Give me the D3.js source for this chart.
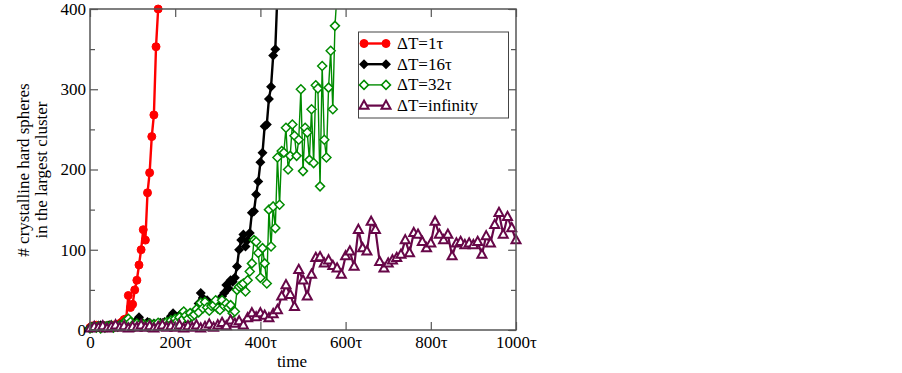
<!DOCTYPE html>
<html>
<head>
<meta charset="utf-8">
<script src="https://cdn.jsdelivr.net/npm/d3@7"></script>
<style>
  body { margin: 0; background: #fff; }
  svg text { font-family: "Liberation Serif", "Times New Roman", serif; }
</style>
</head>
<body>
<svg id="chart"></svg>
<script>
const width = 902;
const height = 373;

// time samples and values of each run
const tRed = d3.range(0, 161, 5);
const vRed = [3, 5, 4, 6, 5, 4, 3, 5, 4, 6, 5, 6, 5, 7, 8, 10, 13, 14, 43, 28, 32, 50, 62, 81, 100, 125, 112, 171, 196, 241, 268, 353, 400];

const tBlack = d3.range(0, 446, 5);
const vBlack = [3, 4, 5, 3, 4, 6, 4, 5, 3, 6, 5, 4, 6, 5, 7, 6, 5, 8, 6, 7,
  9, 8, 12, 16, 10, 8, 7, 10, 9, 6, 8, 7, 6, 9, 8, 10, 8, 12, 17, 21,
  15, 12, 18, 21, 16, 14, 19, 15, 21, 18, 25, 33, 46, 40, 35, 37, 28, 32, 29, 35,
  31, 37, 42, 46, 56, 52, 62, 60, 65, 79, 100, 112, 119, 104, 112, 121, 146, 148, 169, 185,
  209, 221, 254, 256, 288, 303, 342, 350, 420];

const tGreen = d3.range(0, 581, 5);
const vGreen = [2, 3, 4, 3, 5, 2, 4, 3, 5, 4, 6, 3, 5, 4, 6, 5,
  8, 12, 14, 10, 6, 4, 8, 6, 5, 7, 6, 4, 8, 5, 7, 6, 9, 5, 8, 6,
  10, 8, 12, 9, 14, 11, 16, 12, 23, 18, 14, 21, 17, 19, 26, 22, 34, 27, 35, 28,
  24, 30, 31, 37, 27, 25, 37, 30, 33, 28, 31, 21, 23, 50, 54, 56, 58, 48, 62, 73,
  83, 112, 110, 96, 65, 102, 83, 58, 150, 104, 154, 127, 215, 156, 223, 221, 252, 200, 217, 256,
  242, 217, 237, 300, 198, 252, 246, 212, 275, 208, 305, 301, 179, 329, 237, 215, 302, 348, 275, 379,
  420];

const tInf = d3.range(0, 1001, 10);
const vInf = [2, 4, 3, 5, 2, 4, 6, 3, 5, 2, 4, 3, 6, 3, 5, 2, 4, 6, 3, 5,
  3, 6, 2, 5, 3, 6, 2, 4, 7, 3, 6, 9, 5, 12, 8, 11, 6, 15, 21, 16,
  21, 18, 15, 20, 25, 42, 56, 44, 29, 75, 62, 42, 69, 90, 91, 83, 87, 80, 77, 69,
  92, 98, 79, 125, 102, 98, 135, 125, 85, 77, 83, 87, 90, 94, 112, 96, 121, 119, 110, 102,
  108, 135, 119, 112, 119, 92, 108, 110, 106, 108, 106, 110, 94, 117, 108, 131, 146, 119, 141, 127,
  112];

const labels = ["\u0394T=1\u03c4", "\u0394T=16\u03c4", "\u0394T=32\u03c4", "\u0394T=infinity"];
const xTicks = [0, 200, 400, 600, 800, 1000];
const yTicks = [0, 100, 200, 300, 400];
const yMinor = [50, 150, 250, 350];

const series = [
  { t: tRed, v: vRed, name: labels[0], color: "#ff0000", width: 2.4, shape: "circle" },
  { t: tBlack, v: vBlack, name: labels[1], color: "#000000", width: 2.4, shape: "diamondFill" },
  { t: tGreen, v: vGreen, name: labels[2], color: "#008b00", width: 1.4, shape: "diamond" },
  { t: tInf, v: vInf, name: labels[3], color: "#670748", width: 2.2, shape: "triangle" }
];

const svg = d3.select("#chart").attr("width", width).attr("height", height);

const x = d3.scaleLinear().domain([0, 1000]).range([90, 516]);
const y = d3.scaleLinear().domain([0, 400]).range([330, 9]);

svg.append("defs").append("clipPath").attr("id", "plotclip")
   .append("rect")
   .attr("x", x(0)).attr("y", y(400))
   .attr("width", x(1000) - x(0)).attr("height", y(0) - y(400));

function marker(g, shape, color) {
  if (shape === "circle") {
    g.append("circle").attr("r", 4).attr("fill", color).attr("stroke", color).attr("stroke-width", 1);
  } else if (shape === "diamondFill") {
    g.append("path").attr("d", "M0,-5L5,0L0,5L-5,0Z").attr("fill", color);
  } else if (shape === "diamond") {
    g.append("path").attr("d", "M0,-4.5L4.5,0L0,4.5L-4.5,0Z").attr("fill", "#fff")
     .attr("stroke", color).attr("stroke-width", 1.5);
  } else {
    g.append("path").attr("d", "M0,-5L4.5,3.2L-4.5,3.2Z").attr("fill", "#fff")
     .attr("stroke", color).attr("stroke-width", 2);
  }
}

series.forEach(s => {
  const pts = s.t.map((t, i) => [t, s.v[i]]);
  const line = d3.line().x(d => x(d[0])).y(d => y(d[1]));
  svg.append("path")
     .datum(pts)
     .attr("clip-path", "url(#plotclip)")
     .attr("fill", "none")
     .attr("stroke", s.color)
     .attr("stroke-width", s.width)
     .attr("stroke-linejoin", "round")
     .attr("d", line);
  svg.append("g").selectAll("g")
     .data(pts.filter(d => d[1] <= 400))
     .enter()
     .append("g")
     .attr("transform", d => `translate(${x(d[0])},${y(d[1])})`)
     .each(function () { marker(d3.select(this), s.shape, s.color); });
});

// frame and ticks
const axisColor = "#555";
const styleAxis = g => {
  g.select(".domain").remove();
  g.selectAll(".tick line").attr("stroke", axisColor).attr("stroke-width", 1.2);
  g.selectAll("text").attr("font-size", 17).attr("fill", "#000")
   .attr("font-family", "Liberation Serif, serif");
};

svg.append("g").attr("transform", `translate(0,${y(0)})`)
   .call(d3.axisBottom(x).tickValues(xTicks).tickSize(-8).tickPadding(6)
         .tickFormat(d => d === 0 ? "0" : d + "\u03c4"))
   .call(styleAxis);
svg.append("g").attr("transform", `translate(0,${y(400)})`)
   .call(d3.axisTop(x).tickValues(xTicks).tickSize(-8).tickFormat(""))
   .call(styleAxis);
svg.append("g").attr("transform", `translate(${x(0)},0)`)
   .call(d3.axisLeft(y).tickValues(yTicks).tickSize(-8).tickPadding(4))
   .call(styleAxis);
svg.append("g").attr("transform", `translate(${x(0)},0)`)
   .call(d3.axisLeft(y).tickValues(yMinor).tickSize(-5).tickFormat(""))
   .call(styleAxis);
svg.append("g").attr("transform", `translate(${x(1000)},0)`)
   .call(d3.axisRight(y).tickValues(yTicks).tickSize(-8).tickFormat(""))
   .call(styleAxis);
svg.append("g").attr("transform", `translate(${x(1000)},0)`)
   .call(d3.axisRight(y).tickValues(yMinor).tickSize(-5).tickFormat(""))
   .call(styleAxis);

svg.append("rect")
   .attr("x", x(0)).attr("y", y(400))
   .attr("width", x(1000) - x(0)).attr("height", y(0) - y(400))
   .attr("fill", "none").attr("stroke", axisColor).attr("stroke-width", 1.5);

// axis titles
svg.append("text").attr("x", 292).attr("y", 367).attr("text-anchor", "middle")
   .attr("font-size", 17).text("time");
svg.append("text").attr("transform", "translate(29,170) rotate(-90)").attr("text-anchor", "middle")
   .attr("font-size", 17).text("# crystalline hard spheres");
svg.append("text").attr("transform", "translate(47,170) rotate(-90)").attr("text-anchor", "middle")
   .attr("font-size", 17).text("in the largest cluster");

// legend
const legend = svg.append("g");
legend.append("rect").attr("x", 358.5).attr("y", 32).attr("width", 150).attr("height", 86)
      .attr("fill", "#fff").attr("stroke", "#444").attr("stroke-width", 1);
series.forEach((s, i) => {
  const ly = 43.5 + i * 20.7;
  legend.append("line").attr("x1", 364).attr("x2", 386).attr("y1", ly).attr("y2", ly)
        .attr("stroke", s.color).attr("stroke-width", s.width);
  [364, 386].forEach(lx => {
    const g = legend.append("g").attr("transform", `translate(${lx},${ly})`);
    marker(g, s.shape, s.color);
  });
  legend.append("text").attr("x", 397).attr("y", ly + 5.5).attr("font-size", 17).text(s.name);
});
</script>
</body>
</html>
